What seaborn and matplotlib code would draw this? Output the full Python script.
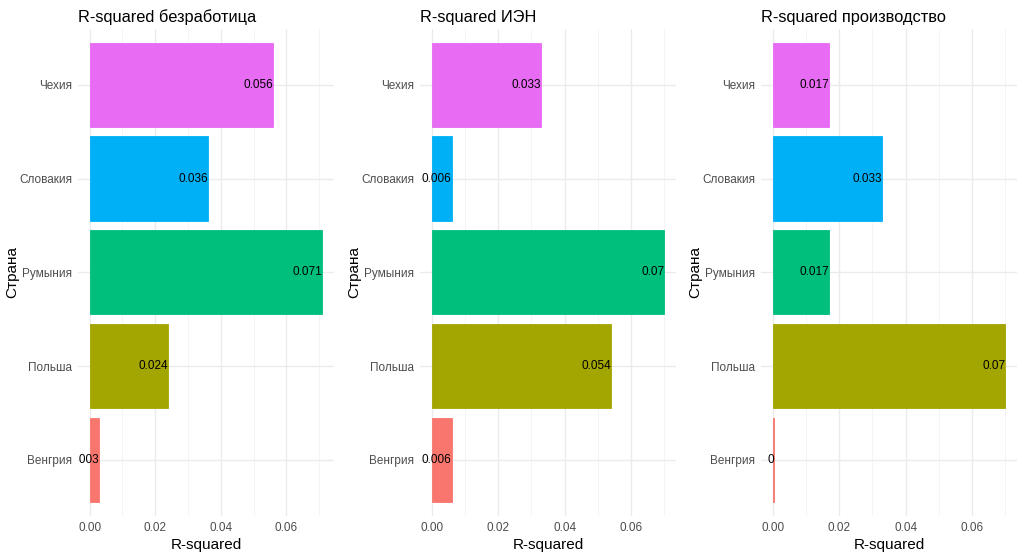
import matplotlib
matplotlib.use("Agg")
import matplotlib.pyplot as plt
import seaborn as sns
import numpy as np
import pandas as pd
from matplotlib.ticker import MultipleLocator

countries = ["Чехия", "Словакия", "Румыния", "Польша", "Венгрия"]
colors = ["#E76BF3", "#00B0F6", "#00BF7D", "#A3A500", "#F8766D"]
titles = ["R-squared безработица", "R-squared ИЭН", "R-squared производство"]
r2_unemp = [0.056, 0.036, 0.071, 0.024, 0.003]
r2_iep = [0.033, 0.006, 0.070, 0.054, 0.006]
r2_prod = [0.017, 0.033, 0.017, 0.070, 0.0004]
series = [r2_unemp, r2_iep, r2_prod]
xticks = [0.00, 0.02, 0.04, 0.06]

sns.set_theme(style="white")
plt.rcParams["font.family"] = ["Liberation Sans", "DejaVu Sans"]

W, H = 1024, 556
fig = plt.figure(figsize=(W / 100, H / 100), dpi=100)
panel_left = [78, 420, 761]
pw = 256
top, bottom = 28.6, 516

def fmt(v):
    r = round(v, 3)
    s = f"{r:.3f}".rstrip("0").rstrip(".")
    return s if s else "0"

for i, (vals, title) in enumerate(zip(series, titles)):
    ax = fig.add_axes([panel_left[i] / W, 1 - bottom / H, pw / W, (bottom - top) / H])
    df = pd.DataFrame({"Страна": countries, "R2": vals})
    sns.barplot(data=df, y="Страна", x="R2", hue="Страна", order=countries,
                hue_order=countries, palette=colors, orient="h", width=0.9,
                legend=False, ax=ax, saturation=1, zorder=2)
    for p in ax.patches:
        p.set_edgecolor(p.get_facecolor())
        p.set_linewidth(0.6)
    vmax = max(vals)
    ax.set_xlim(-0.05 * vmax, vmax * 1.05)
    ax.set_ylim(len(countries) - 0.4, -0.6)
    ax.xaxis.set_major_locator(MultipleLocator(0.02))
    ax.xaxis.set_minor_locator(MultipleLocator(0.01))
    ax.set_xticks(xticks)
    ax.set_xticklabels([f"{t:.2f}" for t in xticks])
    ax.grid(True, which="major", axis="both", color="#EBEBEB", linewidth=1.0, zorder=0)
    ax.grid(True, which="minor", axis="x", color="#F2F2F2", linewidth=0.6, zorder=0)
    ax.set_axisbelow(True)
    for s in ax.spines.values():
        s.set_visible(False)
    ax.tick_params(axis="both", which="both", length=0, labelsize=8.5, colors="#4D4D4D", pad=4)
    ax.set_xlabel("R-squared", fontsize=11, color="black", labelpad=3)
    ax.set_ylabel("Страна", fontsize=11, color="black")
    ax.yaxis.set_label_coords((19 - panel_left[0]) / pw, 0.5)
    ax.set_title(title, loc="left", fontsize=11.8, color="black", pad=4.5)
    for j, v in enumerate(vals):
        ax.text(v, j, fmt(v), ha="right", va="center", fontsize=8.5,
                color="black", clip_on=True, zorder=3)

fig.savefig("out.png", dpi=100, facecolor="white")
